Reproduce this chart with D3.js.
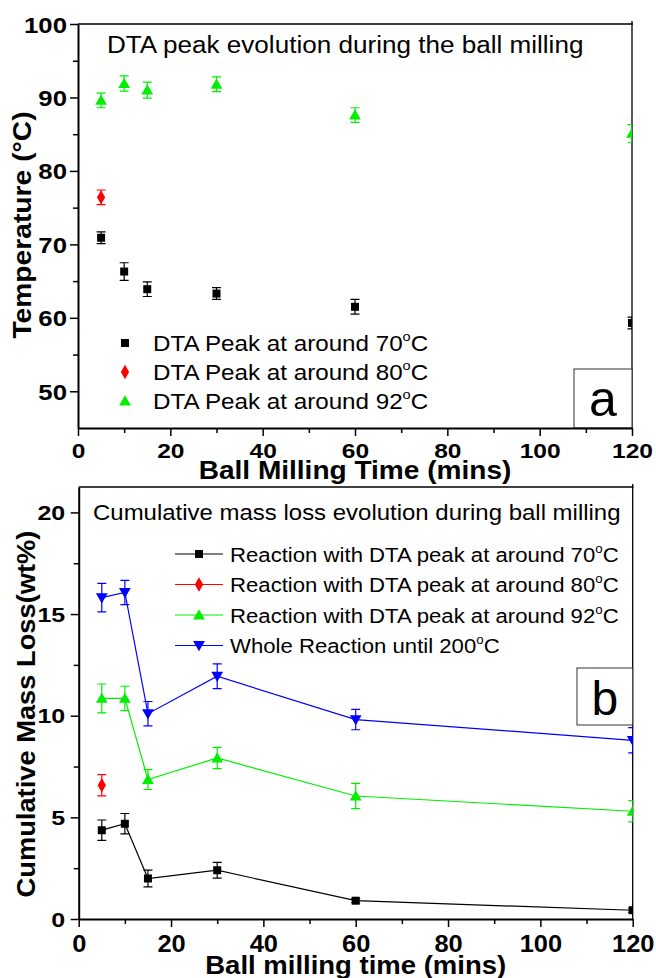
<!DOCTYPE html>
<html>
<head>
<meta charset="utf-8">
<script src="https://cdn.jsdelivr.net/npm/d3@7"></script>
<style>
  body { margin: 0; background: #fff; }
  svg { display: block; font-family: "Liberation Sans", Arial, sans-serif; }
</style>
</head>
<body>
<svg width="656" height="978"></svg>
<script>
// ---- data (a): DTA peak temperatures ----
const timesA = [5, 10, 15, 30, 60, 120]
const peak70Temp = [70.9, 66.3, 63.9, 63.3, 61.5, 59.3]
const peak70TempErr = [0.8, 1.2, 1.0, 0.8, 1.0, 0.8]
const timesRed = [5]
const peak80Temp = [76.4]
const peak80TempErr = [1.0]
const peak92Temp = [89.6, 91.9, 91.0, 91.8, 87.6, 85.1]
const peak92TempErr = [1.0, 1.05, 1.1, 1.0, 1.0, 1.2]

// ---- data (b): cumulative mass loss ----
const timesB = [5, 10, 15, 30, 60, 120]
const loss70 = [4.37, 4.69, 1.99, 2.40, 0.90, 0.43]
const loss70Err = [0.5, 0.5, 0.41, 0.39, 0.1, 0.1]
const loss80 = [6.58]
const loss80Err = [0.52]
const loss92 = [10.85, 10.85, 6.86, 7.92, 6.05, 5.30]
const loss92Err = [0.71, 0.6, 0.49, 0.52, 0.62, 0.52]
const lossWhole = [15.81, 16.06, 10.10, 11.94, 9.81, 8.79]
const lossWholeErr = [0.7, 0.6, 0.6, 0.61, 0.5, 0.62]

const xMajor = [0, 20, 40, 60, 80, 100, 120]
const xMinor = [10, 30, 50, 70, 90, 110]
const yMajorA = [50, 60, 70, 80, 90, 100]
const yMinorA = [55, 65, 75, 85, 95]
const yMajorB = [0, 5, 10, 15, 20]
const yMinorB = [2.5, 7.5, 12.5, 17.5]

const svg = d3.select('svg')

const symbols = {
	square: d3.symbol().type(d3.symbolSquare).size(64),
	diamond: d3.symbol().type(d3.symbolDiamond).size(60),
	triangle: d3.symbol().type(d3.symbolTriangle).size(60),
}

// text placed with a transform so it can be stretched like the original figure
const sText = (parent, o) => parent.append('text')
	.attr('transform', `translate(${o.x},${o.y})${o.rotate ? ` rotate(${o.rotate})` : ''} scale(${o.sx || 1},${o.sy || 1})`)
	.attr('text-anchor', o.anchor || 'start')
	.attr('font-size', o.size)
	.attr('font-weight', o.weight || 'normal')

const supDeg = (sel, before, after, size) => {
	sel.append('tspan').text(before)
	sel.append('tspan').attr('font-size', size * 0.6).attr('dy', -size * 0.42).text('o')
	sel.append('tspan').attr('dy', size * 0.42).text(after)
}

const drawPanel = (p) => {
	const x = d3.scaleLinear().domain([0, 120]).range([p.left, p.right])
	const y = d3.scaleLinear().domain(p.yDomain).range([p.bottom, p.top])
	const g = svg.append('g')

	// frame (top + right)
	g.append('path')
		.attr('d', `M${p.left},${p.top}H${p.right + 1}M${p.right},${p.top - 3}V${p.bottom}`)
		.attr('stroke', '#000').attr('stroke-width', 1.3).attr('fill', 'none')

	// label box (a / b)
	g.append('rect')
		.attr('x', p.box[0]).attr('y', p.box[1]).attr('width', p.right - p.box[0]).attr('height', p.box[2] - p.box[1])
		.attr('fill', '#fff').attr('stroke', '#333').attr('stroke-width', 1)
	g.append('text')
		.attr('x', (p.box[0] + p.right) / 2).attr('y', p.box[3])
		.attr('text-anchor', 'middle').attr('font-size', p.letterSize).text(p.letter)

	// axes
	const xAxis = g.append('g').attr('transform', `translate(0,${p.bottom})`)
		.call(d3.axisBottom(x).tickValues(xMajor).tickSizeInner(8).tickSizeOuter(0))
	xAxis.append('g')
		.call(d3.axisBottom(x).tickValues(xMinor).tickSize(5).tickFormat(''))
		.select('.domain').remove()
	xAxis.selectAll('text')
		.attr('y', 0).attr('dy', 0)
		.attr('transform', `translate(0,${p.xt.base}) scale(${p.xt.sx},1)`)
		.attr('font-size', p.xt.size).attr('font-weight', 'bold')
		.attr('font-family', '"Liberation Sans", Arial, sans-serif').attr('fill', '#000')

	const yAxis = g.append('g').attr('transform', `translate(${p.left},0)`)
		.call(d3.axisLeft(y).tickValues(p.yMajor).tickSizeInner(8).tickSizeOuter(0))
	yAxis.append('g')
		.call(d3.axisLeft(y).tickValues(p.yMinor).tickSize(5).tickFormat(''))
		.select('.domain').remove()
	yAxis.selectAll('text')
		.attr('x', 0).attr('dy', 0)
		.attr('transform', `translate(${p.yt.dx},${p.yt.dy}) scale(${p.yt.sx},1)`)
		.attr('font-size', p.yt.size).attr('font-weight', 'bold')
		.attr('font-family', '"Liberation Sans", Arial, sans-serif').attr('fill', '#000')
	g.selectAll('.domain').attr('stroke-width', 2)
	g.selectAll('.tick line').attr('stroke-width', 1.5)

	// axis titles
	sText(g, { x: p.yTitle.x, y: p.yTitle.y, rotate: -90, sx: p.yTitle.sx, size: p.yTitle.size, weight: 'bold', anchor: 'middle' })
		.text(p.yTitle.text)
	sText(g, { x: (p.left + p.right) / 2, y: p.xTitle.y, sx: p.xTitle.sx, size: p.xTitle.size, weight: 'bold', anchor: 'middle' })
		.text(p.xTitle.text)

	// panel heading
	sText(g, { x: p.heading.x, y: p.heading.y, sx: p.heading.sx, size: p.heading.size })
		.text(p.heading.text)

	// data
	const clipId = 'clip' + p.letter
	svg.append('clipPath').attr('id', clipId).append('rect')
		.attr('x', p.left).attr('y', p.top).attr('width', p.right - p.left).attr('height', p.bottom - p.top)
	const dg = g.append('g').attr('clip-path', `url(#${clipId})`)

	p.series.forEach(s => {
		const pts = s.t.map((t, i) => ({ t, v: s.v[i], e: s.e[i] }))
		if (s.line && pts.length > 1) {
			dg.append('path')
				.datum(pts)
				.attr('fill', 'none').attr('stroke', s.color).attr('stroke-width', 1.2)
				.attr('d', d3.line().x(d => x(d.t)).y(d => y(d.v)))
		}
		const eb = dg.append('g').attr('stroke', s.color).attr('stroke-width', 1.2)
		pts.forEach(d => {
			const cx = x(d.t), y0 = y(d.v - d.e), y1 = y(d.v + d.e)
			eb.append('path').attr('fill', 'none')
				.attr('d', `M${cx},${y0}V${y1}M${cx - 4.5},${y0}H${cx + 4.5}M${cx - 4.5},${y1}H${cx + 4.5}`)
		})
		dg.append('g').selectAll('path.m')
			.data(pts).enter().append('path')
			.attr('class', 'm')
			.attr('transform', d => `translate(${x(d.t)},${y(d.v) + (s.flip ? -1 : 1) * (s.shape === 'triangle' ? 1 : 0)})${s.flip ? ' rotate(180)' : ''}`)
			.attr('d', symbols[s.shape]())
			.attr('fill', s.color)
	})

	// legend
	const lg = g.append('g')
	const L = p.legend
	p.series.forEach((s, i) => {
		const ly = L.y + i * L.dy
		if (s.line) {
			lg.append('line')
				.attr('x1', L.x - 24).attr('x2', L.x + 24).attr('y1', ly).attr('y2', ly)
				.attr('stroke', s.color).attr('stroke-width', 1.2)
		}
		lg.append('path')
			.attr('transform', `translate(${L.x},${ly + (s.shape === 'triangle' ? (s.flip ? -1 : 1) : 0)})${s.flip ? ' rotate(180)' : ''}`)
			.attr('d', symbols[s.shape]())
			.attr('fill', s.color)
		sText(lg, { x: L.tx, y: ly + L.base, sx: L.sx, size: L.size })
			.call(supDeg, s.label[0], s.label[1], L.size)
	})
}

drawPanel({
	letter: 'a', letterSize: 50,
	left: 78, right: 632, top: 24, bottom: 428,
	yDomain: [45, 100], yMajor: yMajorA, yMinor: yMinorA,
	xt: { size: 21, sx: 1.17, base: 30 },
	yt: { size: 22, sx: 1.17, dx: -11, dy: 8 },
	yTitle: { text: 'Temperature (°C)', x: 30.5, y: 225, size: 25, sx: 1.13 },
	xTitle: { text: 'Ball Milling Time (mins)', y: 479, size: 25.5, sx: 1.1 },
	heading: { text: 'DTA peak evolution during the ball milling', x: 107, y: 53, size: 23.3, sx: 1.12 },
	box: [574, 369, 428, 416],
	legend: { x: 125, y: 343, dy: 29, tx: 153, base: 7.5, size: 22, sx: 1.1 },
	series: [
		{ t: timesA, v: peak70Temp, e: peak70TempErr, color: '#000000', shape: 'square', label: ['DTA Peak at around 70', 'C'] },
		{ t: timesRed, v: peak80Temp, e: peak80TempErr, color: '#ff0000', shape: 'diamond', label: ['DTA Peak at around 80', 'C'] },
		{ t: timesA, v: peak92Temp, e: peak92TempErr, color: '#00ee00', shape: 'triangle', label: ['DTA Peak at around 92', 'C'] },
	],
})

drawPanel({
	letter: 'b', letterSize: 48,
	left: 78.7, right: 632.7, top: 487, bottom: 919,
	yDomain: [0, 21.25], yMajor: yMajorB, yMinor: yMinorB,
	xt: { size: 24, sx: 1.06, base: 33 },
	yt: { size: 20, sx: 1.25, dx: -13.5, dy: 7 },
	yTitle: { text: 'Cumulative Mass Loss(wt%)', x: 35, y: 714, size: 26, sx: 1.05 },
	xTitle: { text: 'Ball milling time (mins)', y: 974, size: 25, sx: 1.1 },
	heading: { text: 'Cumulative mass loss evolution during ball milling', x: 93, y: 520, size: 22, sx: 1.09 },
	box: [577, 668, 725, 715],
	legend: { x: 199, y: 554, dy: 30.5, tx: 230, base: 7.5, size: 21, sx: 1.055 },
	series: [
		{ t: timesB, v: loss70, e: loss70Err, color: '#000000', shape: 'square', line: true, label: ['Reaction with DTA peak at around 70', 'C'] },
		{ t: timesRed, v: loss80, e: loss80Err, color: '#ff0000', shape: 'diamond', line: true, label: ['Reaction with DTA peak at around 80', 'C'] },
		{ t: timesB, v: loss92, e: loss92Err, color: '#00ee00', shape: 'triangle', line: true, label: ['Reaction with DTA peak at around 92', 'C'] },
		{ t: timesB, v: lossWhole, e: lossWholeErr, color: '#0000ff', shape: 'triangle', flip: true, line: true, label: ['Whole Reaction until 200', 'C'] },
	],
})
</script>
</body>
</html>
